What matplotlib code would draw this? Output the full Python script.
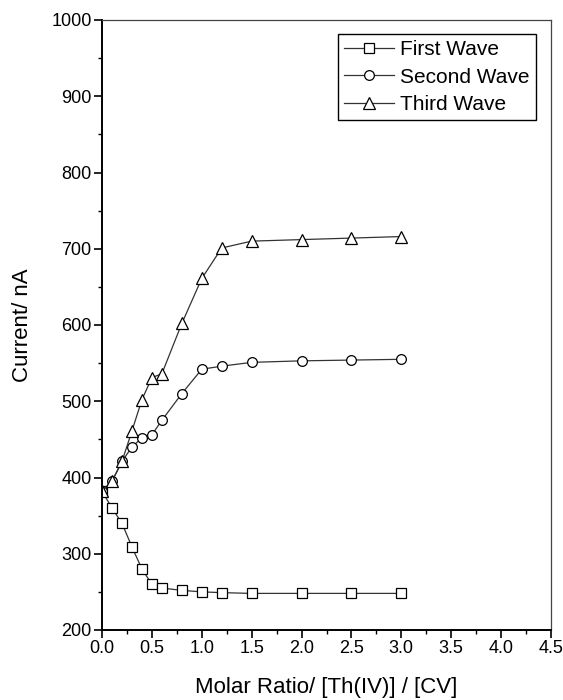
import matplotlib
matplotlib.use("Agg")
import matplotlib.pyplot as plt
from matplotlib.ticker import MultipleLocator

plt.rcParams["font.family"] = ["Liberation Sans", "DejaVu Sans"]

# ── data ──
ratio = [0.0, 0.1, 0.2, 0.3, 0.4, 0.5, 0.6, 0.8, 1.0, 1.2, 1.5, 2.0, 2.5, 3.0]
first_wave = [382, 360, 340, 309, 280, 260, 255, 252, 250, 249, 248, 248, 248, 248]
second_wave = [382, 395, 421, 440, 452, 456, 475, 510, 542, 546, 551, 553, 554, 555]
third_wave = [382, 395, 421, 461, 502, 531, 536, 602, 661, 701, 710, 712, 714, 716]

LINE = "#333333"

fig = plt.figure(figsize=(5.63, 7.0), dpi=100, facecolor="white")
ax = fig.add_axes([102 / 563, 1 - 630 / 700, 449 / 563, 610 / 700])

style = dict(color=LINE, linewidth=0.9,
             markerfacecolor="white", markeredgecolor="black", markeredgewidth=0.9)
ax.plot(ratio, first_wave, marker="s", markersize=6.5, label="First Wave", **style)
ax.plot(ratio, second_wave, marker="o", markersize=7, label="Second Wave", **style)
ax.plot(ratio, third_wave, marker="^", markersize=8.5, label="Third Wave", **style)

ax.set_xlim(0, 4.5)
ax.set_ylim(200, 1000)
ax.xaxis.set_major_locator(MultipleLocator(0.5))
ax.xaxis.set_minor_locator(MultipleLocator(0.25))
ax.yaxis.set_major_locator(MultipleLocator(100))
ax.yaxis.set_minor_locator(MultipleLocator(50))
ax.tick_params(which="major", direction="out", length=6, width=1.2, labelsize=13, pad=1.5)
ax.tick_params(which="minor", direction="out", length=3, width=1.0)
ax.tick_params(top=False, right=False, which="both")

for side in ("left", "bottom"):
    ax.spines[side].set_linewidth(1.4)
for side in ("top", "right"):
    ax.spines[side].set_linewidth(0.9)
    ax.spines[side].set_color("#444444")

ax.set_xlabel("Molar Ratio/ [Th(IV)] / [CV]", fontsize=16, labelpad=14)
ax.set_ylabel("Current/ nA", fontsize=16, labelpad=13)

leg = ax.legend(loc="upper right", bbox_to_anchor=(0.967, 0.977), fontsize=15,
                frameon=True, fancybox=False, edgecolor="black", framealpha=1,
                handlelength=2.4, handletextpad=0.3, borderpad=0.3,
                labelspacing=0.4, borderaxespad=0)
leg.get_frame().set_linewidth(1.0)

fig.savefig("out.png", dpi=100, facecolor="white")
